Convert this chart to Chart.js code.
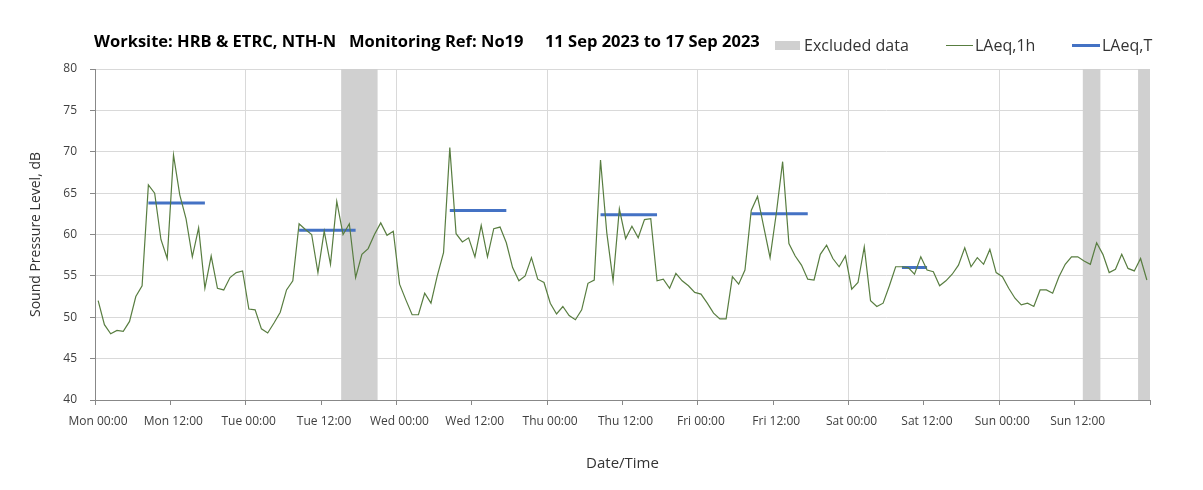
<!DOCTYPE html>
<html>
<head>
<meta charset="utf-8">
<title>Noise Monitoring No19</title>
<script src="https://cdn.jsdelivr.net/npm/chart.js@4.4.0/dist/chart.umd.min.js"></script>
<style>
    body { margin: 0; background: #fff; font-family: "Open Sans", sans-serif; }
    #wrap { position: relative; width: 1203px; height: 490px; }
    #header { position: absolute; left: 0; top: 0; width: 1203px; height: 60px; }
    #header .title { position: absolute; left: 94px; top: 31px; font-weight: bold; font-size: 16.5px; color: #000; white-space: pre; line-height: 20px; }
    #legend .item { position: absolute; top: 35px; height: 20px; line-height: 20px; font-size: 16px; color: #333; white-space: nowrap; }
    #legend .swatch { display: inline-block; vertical-align: middle; margin-top: -3px; }
</style>
</head>
<body>
<div id="wrap">
    <canvas id="noiseChart"></canvas>
    <div id="header">
        <span class="title">Worksite: HRB &amp; ETRC, NTH-N   Monitoring Ref: No19     11 Sep 2023 to 17 Sep 2023</span>
        <div id="legend"></div>
    </div>
</div>
<script>
// Hourly LAeq,1h, Mon 00:00 - Sun 23:00 (one value per hour)
const laeq1h = [
    52.0, 49.1, 48.0, 48.4, 48.3, 49.5, 52.5, 53.8, 66.0, 65.0, 59.4, 57.1, 69.6, 64.8,
    61.9, 57.3, 60.8, 53.5, 57.4, 53.5, 53.3, 54.8, 55.4, 55.6, 51.0, 50.9, 48.6, 48.1,
    49.3, 50.6, 53.3, 54.4, 61.3, 60.6, 60.0, 55.4, 60.4, 56.4, 64.0, 60.0, 61.3, 54.8,
    57.6, 58.3, 60.0, 61.4, 59.9, 60.4, 54.0, 52.1, 50.3, 50.3, 52.9, 51.7, 55.0, 57.8,
    70.5, 60.1, 59.1, 59.6, 57.3, 61.1, 57.3, 60.7, 60.9, 59.0, 56.0, 54.4, 55.0, 57.2,
    54.6, 54.2, 51.7, 50.4, 51.3, 50.2, 49.7, 50.9, 54.1, 54.5, 69.0, 60.2, 54.4, 63.1,
    59.5, 61.0, 59.6, 61.8, 61.9, 54.4, 54.6, 53.5, 55.3, 54.4, 53.8, 53.0, 52.8, 51.7,
    50.5, 49.8, 49.8, 54.9, 54.0, 55.7, 62.9, 64.6, 60.9, 57.2, 62.6, 68.8, 58.9, 57.4,
    56.3, 54.6, 54.5, 57.6, 58.7, 57.1, 56.1, 57.4, 53.4, 54.2, 58.5, 52.0, 51.3, 51.7,
    53.8, 56.1, 56.1, 56.0, 55.2, 57.3, 55.7, 55.5, 53.8, 54.4, 55.2, 56.3, 58.4, 56.1,
    57.2, 56.4, 58.2, 55.4, 54.9, 53.5, 52.3, 51.5, 51.7, 51.3, 53.3, 53.3, 52.9, 54.9,
    56.4, 57.3, 57.3, 56.8, 56.4, 59.0, 57.6, 55.4, 55.8, 57.6, 55.9, 55.6, 57.1, 54.5
];

// LAeq,T per day (hours from Mon 00:00)
const periodStart = [8.5, 32.5, 56.5, 80.5, 104.5, 128.5];
const periodEnd   = [17.5, 41.5, 65.5, 89.5, 113.5, 132.5];
const periodLevel = [63.8, 60.5, 62.9, 62.4, 62.5, 56.0];

// excluded periods (hours from Mon 00:00)
const excludedStart = [39.2, 157.3, 166.1];
const excludedEnd   = [45.0, 160.1, 168.0];

const dayNames = ['Mon', 'Tue', 'Wed', 'Thu', 'Fri', 'Sat', 'Sun'];
const yMin = 40, yMax = 80, yStep = 5;

const green = '#587d40';
const blue = '#4472c4';
const grey = '#d0d0d0';

Chart.defaults.font.family = '"Open Sans", sans-serif';
Chart.defaults.color = '#404040';

// grey columns behind the lines for excluded data
const excludedBands = {
    id: 'excludedBands',
    beforeDatasetsDraw(chart) {
        const {ctx, chartArea, scales: {x}} = chart;
        ctx.save();
        ctx.fillStyle = grey;
        excludedStart.forEach((s, i) => {
            const x0 = x.getPixelForValue(s);
            const x1 = x.getPixelForValue(excludedEnd[i]);
            ctx.fillRect(x0, chartArea.top, x1 - x0, chartArea.bottom - chartArea.top);
        });
        ctx.restore();
    }
};

const hourly = laeq1h.map((v, i) => ({x: i + 0.5, y: v}));

const periods = [];
periodStart.forEach((s, i) => {
    periods.push({x: s, y: periodLevel[i]});
    periods.push({x: periodEnd[i], y: periodLevel[i]});
    periods.push({x: periodEnd[i], y: null});
});

const chart = new Chart(document.getElementById('noiseChart'), {
    type: 'line',
    data: {
        datasets: [
            {
                label: 'LAeq,1h',
                data: hourly,
                borderColor: green,
                borderWidth: 1.2,
                pointRadius: 0,
                tension: 0
            },
            {
                label: 'LAeq,T',
                data: periods,
                borderColor: blue,
                borderWidth: 3,
                pointRadius: 0,
                spanGaps: false
            }
        ]
    },
    options: {
        responsive: true,
        maintainAspectRatio: false,
        animation: false,
        devicePixelRatio: 1,
        layout: { padding: { top: 69, right: 53, bottom: 0, left: 0 } },
        plugins: {
            legend: { display: false },
            tooltip: { enabled: false }
        },
        scales: {
            x: {
                type: 'linear',
                min: 0,
                max: 168,
                afterFit: (s) => { s.height = 90; },
                border: { color: '#888' },
                grid: {
                    color: (c) => (c.tick && c.tick.value > 0 && c.tick.value < 168 && c.tick.value % 24 === 0) ? '#d9d9d9' : 'rgba(0,0,0,0)',
                    tickColor: '#888',
                    tickLength: 5
                },
                ticks: {
                    stepSize: 12,
                    autoSkip: false,
                    maxRotation: 0,
                    labelOffset: 3,
                    padding: 9,
                    font: { size: 12 },
                    callback: (value) => {
                        if (value >= 168) return '';
                        return dayNames[Math.floor(value / 24)] + ' ' + (value % 24 === 0 ? '00:00' : '12:00');
                    }
                },
                title: {
                    display: true,
                    text: 'Date/Time',
                    font: { size: 15 },
                    color: '#333',
                    padding: { top: 0, bottom: 17 }
                }
            },
            y: {
                min: yMin,
                max: yMax,
                afterFit: (s) => { s.width = 95; },
                border: { color: '#888' },
                grid: { color: '#d9d9d9', tickColor: '#888', tickLength: 5 },
                ticks: { stepSize: yStep, padding: 13, font: { size: 12 } },
                title: {
                    display: true,
                    text: 'Sound Pressure Level, dB',
                    font: { size: 14 },
                    color: '#333',
                    padding: { top: 28 }
                }
            }
        }
    },
    plugins: [excludedBands]
});

// legend row next to the title
const legendItems = [
    { text: 'Excluded data', left: 775, swatch: 'width:25px;height:9px;background:' + grey + ';margin-right:4px;' },
    { text: 'LAeq,1h', left: 946, swatch: 'width:27px;height:0;border-top:1px solid ' + green + ';margin-right:2px;' },
    { text: 'LAeq,T', left: 1072, swatch: 'width:28px;height:0;border-top:3px solid ' + blue + ';margin-right:2px;' }
];
const legendBox = document.getElementById('legend');
legendItems.forEach(item => {
    const el = document.createElement('div');
    el.className = 'item';
    el.style.left = item.left + 'px';
    el.innerHTML = '<span class="swatch" style="' + item.swatch + '"></span>' + item.text;
    legendBox.appendChild(el);
});
</script>
</body>
</html>
